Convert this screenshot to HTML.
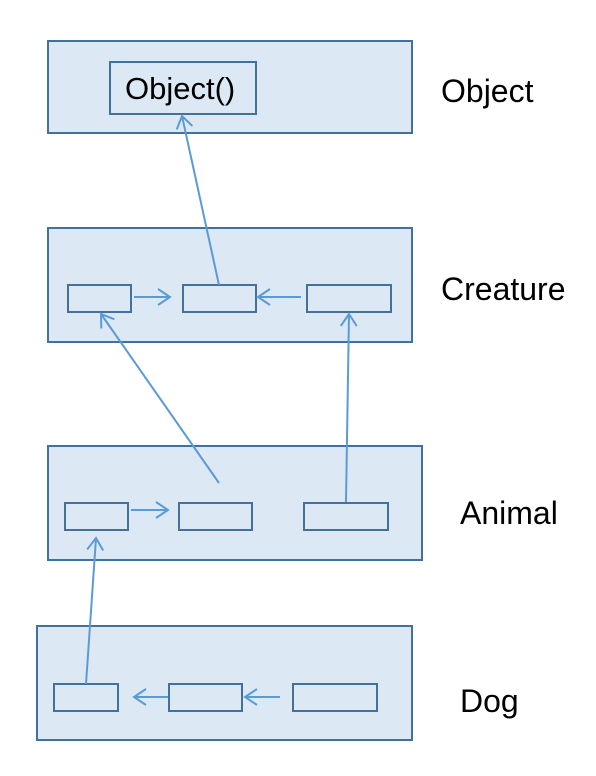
<!DOCTYPE html>
<html><head><meta charset="utf-8"><style>
html,body{margin:0;padding:0;background:#fff;}
svg{display:block;}
text{font-family:"Liberation Sans",Arial,sans-serif;fill:#000;}
</style></head><body>
<svg width="596" height="776" viewBox="0 0 596 776" xmlns="http://www.w3.org/2000/svg">
<defs>
<marker id="a" markerWidth="16" markerHeight="20" refX="13" refY="10" orient="auto" markerUnits="userSpaceOnUse">
<path d="M1,2 L13,10 L1,18" fill="none" stroke="#5b9bd5" stroke-width="2"/>
</marker>
</defs>
<g fill="#dde8f5" stroke="#41719c" stroke-width="2">
<rect x="48" y="41" width="364" height="92"/>
<rect x="110" y="62" width="146" height="52"/>
<rect x="48" y="228" width="364" height="114"/>
<rect x="68" y="285" width="63" height="27"/>
<rect x="183" y="285" width="73" height="27"/>
<rect x="307" y="285" width="84" height="27"/>
<rect x="48" y="446" width="374" height="114"/>
<rect x="65" y="503" width="63" height="27"/>
<rect x="179" y="503" width="73" height="27"/>
<rect x="304" y="503" width="84" height="27"/>
<rect x="37" y="626" width="375" height="114"/>
<rect x="54" y="684" width="64" height="27"/>
<rect x="169" y="684" width="73" height="27"/>
<rect x="293" y="684" width="84" height="27"/>
</g>
<g stroke="#5b9bd5" stroke-width="2" fill="none" marker-end="url(#a)">
<line x1="219" y1="285" x2="182" y2="116"/>
<line x1="134" y1="297" x2="170" y2="297"/>
<line x1="301" y1="297" x2="258" y2="297"/>
<line x1="219" y1="483" x2="101" y2="314"/>
<line x1="346" y1="502" x2="349" y2="314"/>
<line x1="131" y1="510" x2="168" y2="510"/>
<line x1="86" y1="684" x2="96" y2="538"/>
<line x1="168" y1="697" x2="134" y2="697"/>
<line x1="280" y1="697" x2="245" y2="697"/>
</g>
<text x="125" y="99" font-size="31">Object()</text>
<text x="441" y="102" font-size="32">Object</text>
<text x="441" y="300" font-size="32">Creature</text>
<text x="460" y="524" font-size="32">Animal</text>
<text x="460" y="712" font-size="32">Dog</text>
</svg>
</body></html>
